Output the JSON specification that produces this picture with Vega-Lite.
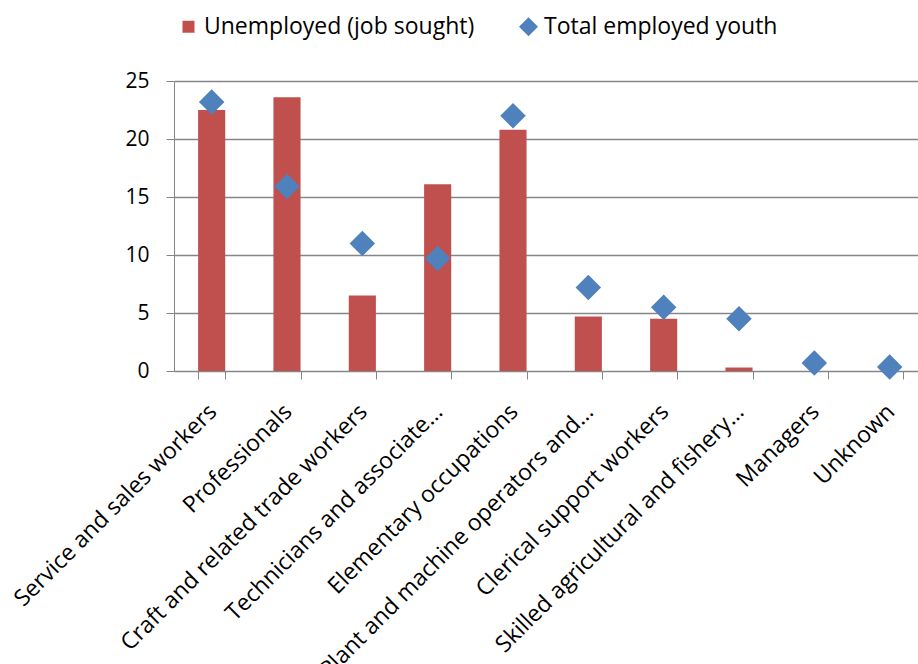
{
  "$schema": "https://vega.github.io/schema/vega-lite/v6.json",
  "width": 744,
  "height": 290,
  "autosize": {"type": "none"},
  "padding": {"left": 174, "top": 81, "right": 0, "bottom": 293},
  "background": "white",
  "config": {
    "view": {"stroke": null},
    "font": "Open Sans",
    "axis": {"labelFont": "Open Sans", "labelColor": "#000000", "domainColor": "#868686", "tickColor": "#868686", "gridColor": "#868686", "titleFont": "Open Sans"},
    "legend": {"labelFont": "Open Sans"}
  },
  "data": {
    "values": [
      {"occupation": "Service and sales workers", "series": "Unemployed (job sought)", "value": 22.5},
      {"occupation": "Professionals", "series": "Unemployed (job sought)", "value": 23.6},
      {"occupation": "Craft and related trade workers", "series": "Unemployed (job sought)", "value": 6.5},
      {"occupation": "Technicians and associate…", "series": "Unemployed (job sought)", "value": 16.1},
      {"occupation": "Elementary occupations", "series": "Unemployed (job sought)", "value": 20.8},
      {"occupation": "Plant and machine operators and…", "series": "Unemployed (job sought)", "value": 4.7},
      {"occupation": "Clerical support workers", "series": "Unemployed (job sought)", "value": 4.5},
      {"occupation": "Skilled agricultural and fishery…", "series": "Unemployed (job sought)", "value": 0.3},
      {"occupation": "Managers", "series": "Unemployed (job sought)", "value": 0},
      {"occupation": "Unknown", "series": "Unemployed (job sought)", "value": 0},
      {"occupation": "Service and sales workers", "series": "Total employed youth", "value": 23.2},
      {"occupation": "Professionals", "series": "Total employed youth", "value": 15.9},
      {"occupation": "Craft and related trade workers", "series": "Total employed youth", "value": 11.0},
      {"occupation": "Technicians and associate…", "series": "Total employed youth", "value": 9.7},
      {"occupation": "Elementary occupations", "series": "Total employed youth", "value": 22.0},
      {"occupation": "Plant and machine operators and…", "series": "Total employed youth", "value": 7.2},
      {"occupation": "Clerical support workers", "series": "Total employed youth", "value": 5.5},
      {"occupation": "Skilled agricultural and fishery…", "series": "Total employed youth", "value": 4.5},
      {"occupation": "Managers", "series": "Total employed youth", "value": 0.7},
      {"occupation": "Unknown", "series": "Total employed youth", "value": 0.35}
    ]
  },
  "encoding": {
    "x": {
      "field": "occupation",
      "type": "nominal",
      "sort": null,
      "title": null,
      "scale": {"paddingInner": 0.64, "paddingOuter": 0.258, "align": 0.62},
      "axis": {"labelAngle": -45, "labelAlign": "right", "labelBaseline": "top", "labelFontSize": 23, "labelLimit": 0, "labelOffset": -7, "tickBand": "extent", "tickSize": 8, "labelPadding": 21, "domainColor": "#868686", "grid": false}
    },
    "y": {
      "field": "value",
      "type": "quantitative",
      "title": null,
      "scale": {"domain": [0, 25], "nice": false},
      "axis": {"values": [0, 5, 10, 15, 20, 25], "labelFontSize": 21, "tickSize": 8, "labelPadding": 17, "grid": true, "gridWidth": 1.5}
    }
  },
  "layer": [
    {
      "transform": [{"filter": "datum.series === 'Unemployed (job sought)'"}],
      "mark": {"type": "bar", "color": "#C0504D"},
      "encoding": {}
    },
    {
      "transform": [{"filter": "datum.series === 'Total employed youth'"}],
      "mark": {"type": "point", "filled": true, "opacity": 1, "size": 650},
      "encoding": {
        "color": {
          "field": "series",
          "type": "nominal",
          "scale": {"domain": ["Unemployed (job sought)", "Total employed youth"], "range": ["#C0504D", "#4F81BD"]},
          "legend": {
            "title": null, "orient": "none", "legendX": 3, "legendY": -66,
            "direction": "horizontal", "columns": 2, "columnPadding": 42,
            "labelFontSize": 23, "labelLimit": 0, "labelColor": "#000000",
            "symbolSize": 361, "labelOffset": 4,
            "symbolOpacity": 1,
            "encode": {"symbols": {"update": {"size": {"signal": "datum.value === 'Total employed youth' ? 361 : 144"}}}}
          }
        },
        "shape": {
          "field": "series",
          "type": "nominal",
          "scale": {"domain": ["Unemployed (job sought)", "Total employed youth"], "range": ["square", "diamond"]}
        }
      }
    }
  ]
}
